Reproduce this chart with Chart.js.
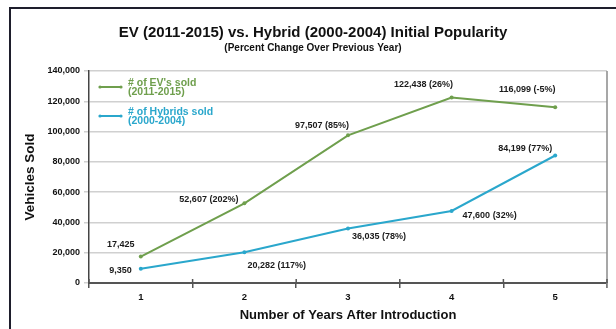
<!DOCTYPE html>
<html>
<head>
<meta charset="utf-8">
<script src="https://cdn.jsdelivr.net/npm/chart.js@4.4.1/dist/chart.umd.min.js"></script>
<style>
  html, body { margin: 0; padding: 0; background: #ffffff; }
  #wrap { position: relative; width: 616px; height: 329px; overflow: hidden; background: #fff; }
  #frame { position: absolute; left: 9px; top: 7px; width: 700px; height: 400px;
           border-left: 2px solid #1e1e2c; border-top: 2px solid #1e1e2c; pointer-events: none; }
  canvas { position: absolute; left: 0; top: 0; }
</style>
</head>
<body>
<div id="wrap">
  <canvas id="c" width="616" height="329"></canvas>
  <div id="frame"></div>
</div>
<script>
// ---- data ----
const categories = ['1', '2', '3', '4', '5'];
const evSold = [17425, 52607, 97507, 122438, 116099];
const hybridSold = [9350, 20282, 36035, 47600, 84199];
const evPctChange = [null, 202, 85, 26, -5];
const hybridPctChange = [null, 117, 78, 32, 77];
const evSeriesName = ["# of EV's sold", '(2011-2015)'];
const hybridSeriesName = ['# of Hybrids sold', '(2000-2004)'];
const yTickMin = 0, yTickMax = 140000, yTickStep = 20000;
const titleText = 'EV (2011-2015) vs. Hybrid (2000-2004) Initial Popularity';
const subtitleText = '(Percent Change Over Previous Year)';
const xTitleText = 'Number of Years After Introduction';
const yTitleText = 'Vehicles Sold';

// ---- styles ----
const FONT = "'Liberation Sans', Arial, sans-serif";
const GREEN = '#6f9f4d';
const BLUE = '#2aa7cc';
// label placement per point: dx, dy from point, text alignment
const evLabelPlace = [
  {dx: -20, dy: -12, align: 'center'},
  {dx: -6, dy: -4, align: 'right'},
  {dx: 1, dy: -10, align: 'right'},
  {dx: -28, dy: -13, align: 'center'},
  {dx: -28, dy: -18, align: 'center'}
];
const hybridLabelPlace = [
  {dx: -9, dy: 2, align: 'right'},
  {dx: 3, dy: 13, align: 'left'},
  {dx: 4, dy: 8, align: 'left'},
  {dx: 11, dy: 5, align: 'left'},
  {dx: -3, dy: -7, align: 'right'}
];

function fmt(v) { return v.toLocaleString('en-US'); }
function labelText(v, pct) { return pct === null ? fmt(v) : fmt(v) + ' (' + pct + '%)'; }

const extras = {
  id: 'extras',
  afterDatasetsDraw(chart) {
    const ctx = chart.ctx;
    const a = chart.chartArea;
    ctx.save();
    // right border of plot
    ctx.strokeStyle = '#8a8a8a';
    ctx.lineWidth = 1.5;
    ctx.beginPath();
    ctx.moveTo(a.right, a.top);
    ctx.lineTo(a.right, a.bottom + 5);
    ctx.stroke();
    // x tick marks crossing the axis (upper part)
    const xs = chart.scales.x;
    ctx.strokeStyle = '#555';
    ctx.lineWidth = 1.5;
    for (let i = 0; i <= categories.length; i++) {
      const px = xs.getPixelForValue(i - 0.5);
      ctx.beginPath();
      ctx.moveTo(px, a.bottom - 4);
      ctx.lineTo(px, a.bottom);
      ctx.stroke();
    }

    // data labels
    ctx.font = 'bold 9px ' + FONT;
    ctx.fillStyle = '#1a1a1a';
    ctx.textBaseline = 'middle';
    const sets = [
      {meta: chart.getDatasetMeta(0), vals: evSold, pct: evPctChange, place: evLabelPlace},
      {meta: chart.getDatasetMeta(1), vals: hybridSold, pct: hybridPctChange, place: hybridLabelPlace}
    ];
    sets.forEach(s => {
      s.meta.data.forEach((pt, i) => {
        const p = s.place[i];
        ctx.textAlign = p.align;
        ctx.fillText(labelText(s.vals[i], s.pct[i]), pt.x + p.dx, pt.y + p.dy);
      });
    });

    // legend inside plot
    const items = [
      {color: GREEN, lines: evSeriesName},
      {color: BLUE, lines: hybridSeriesName}
    ];
    ctx.font = 'bold 10.5px ' + FONT;
    ctx.textAlign = 'left';
    items.forEach((it, k) => {
      const y = a.top + 16 + k * 29;
      const x0 = a.left + 11;
      ctx.strokeStyle = it.color;
      ctx.fillStyle = it.color;
      ctx.lineWidth = 2;
      ctx.beginPath();
      ctx.moveTo(x0, y);
      ctx.lineTo(x0 + 21, y);
      ctx.stroke();
      [x0, x0 + 21].forEach(px => { ctx.beginPath(); ctx.arc(px, y, 1.6, 0, Math.PI * 2); ctx.fill(); });
      ctx.fillText(it.lines[0], x0 + 28, y - 4);
      ctx.fillText(it.lines[1], x0 + 28, y + 5);
    });
    ctx.restore();
  }
};

new Chart(document.getElementById('c'), {
  type: 'line',
  data: {
    labels: categories,
    datasets: [
      {label: evSeriesName.join(' '), data: evSold, borderColor: GREEN, backgroundColor: GREEN,
       borderWidth: 2, pointRadius: 2, pointBorderWidth: 0, tension: 0},
      {label: hybridSeriesName.join(' '), data: hybridSold, borderColor: BLUE, backgroundColor: BLUE,
       borderWidth: 2, pointRadius: 2, pointBorderWidth: 0, tension: 0}
    ]
  },
  options: {
    responsive: false,
    animation: false,
    devicePixelRatio: 1,
    layout: {padding: {left: 19, right: 9, top: 0, bottom: 2}},
    plugins: {
      legend: {display: false},
      tooltip: {enabled: false},
      title: {display: true, text: titleText, color: '#111',
              font: {family: FONT, size: 15, weight: 'bold', lineHeight: 1.2},
              padding: {top: 24, bottom: 0}},
      subtitle: {display: true, text: subtitleText, color: '#111',
              font: {family: FONT, size: 10, weight: 'bold', lineHeight: 1.2},
              padding: {top: 0, bottom: 17}},
    },
    scales: {
      x: {
        offset: true,
        grid: {display: true, drawOnChartArea: false, drawTicks: true, offset: true, tickLength: 5,
               color: '#555', lineWidth: 1.5},
        border: {display: true, color: '#555', width: 2},
        ticks: {color: '#111', font: {family: FONT, size: 9.5, weight: 'bold'}, padding: 4},
        title: {display: true, text: xTitleText, color: '#111',
                font: {family: FONT, size: 13, weight: 'bold', lineHeight: 1.2},
                padding: {top: 0, bottom: 4}},
        afterFit(s) { s.height = 44; }
      },
      y: {
        min: yTickMin, max: yTickMax,
        grid: {color: '#d0d0d0', lineWidth: 1.5, tickLength: 5, drawTicks: true},
        border: {display: true, color: '#444', width: 1.5},
        ticks: {stepSize: yTickStep, color: '#111', padding: 4,
                font: {family: FONT, size: 9, weight: 'bold'},
                callback: v => fmt(v)},
        title: {display: true, text: yTitleText, color: '#111',
                font: {family: FONT, size: 13.5, weight: 'bold', lineHeight: 1.2},
                padding: {top: 3, bottom: 0}},
        afterFit(s) { s.width = 70; }
      }
    }
  },
  plugins: [extras]
});
</script>
</body>
</html>
